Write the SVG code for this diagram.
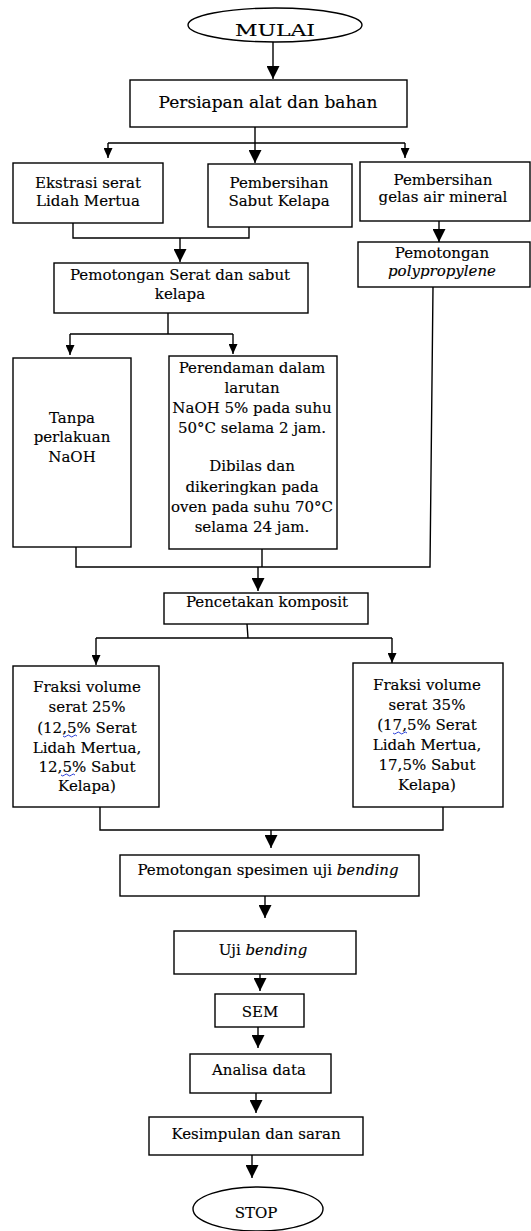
<svg xmlns="http://www.w3.org/2000/svg" width="531" height="1231" viewBox="0 0 531 1231">
<style>
.b{fill:#fff;stroke:#000;stroke-width:1.4}
.c{fill:none;stroke:#000;stroke-width:1.4}
.t{font-family:"DejaVu Serif","Liberation Serif",serif;font-size:15px;fill:#000;stroke:#000;stroke-width:0.15;text-anchor:middle}
.i{font-style:italic}
.sq{fill:none;stroke:#2a3fd8;stroke-width:1}
</style>
<defs>
<marker id="big" markerUnits="userSpaceOnUse" markerWidth="13" markerHeight="13" viewBox="0 0 13 13" refX="13" refY="6.5" orient="auto"><path d="M0,0 L13,6.5 L0,13 z" fill="#000"/></marker>
<marker id="sm" markerUnits="userSpaceOnUse" markerWidth="10" markerHeight="9" viewBox="0 0 10 9" refX="10" refY="4.5" orient="auto"><path d="M0,0 L10,4.5 L0,9 z" fill="#000"/></marker>
</defs>
<rect width="531" height="1231" fill="#fff"/>
<g id="connectors">
<line class="c" x1="273" y1="42" x2="273" y2="79" marker-end="url(#big)"/>
<path class="c" d="M255,127 V143 M108,143 H405"/>
<line class="c" x1="108" y1="143" x2="108" y2="158" marker-end="url(#sm)"/>
<line class="c" x1="255" y1="143" x2="255" y2="163" marker-end="url(#big)"/>
<line class="c" x1="405" y1="143" x2="405" y2="158" marker-end="url(#sm)"/>
<path class="c" d="M73,223 V238 H249 V227"/>
<line class="c" x1="180" y1="238" x2="180" y2="262" marker-end="url(#big)"/>
<line class="c" x1="439" y1="221" x2="439" y2="242" marker-end="url(#big)"/>
<path class="c" d="M168,313 V334 M70,334 H233"/>
<line class="c" x1="70" y1="334" x2="70" y2="355" marker-end="url(#sm)"/>
<line class="c" x1="233" y1="334" x2="233" y2="354" marker-end="url(#sm)"/>
<path class="c" d="M433,287 L430,567 H76 V547 M262,549 V567"/>
<line class="c" x1="258" y1="567" x2="258" y2="591" marker-end="url(#big)"/>
<path class="c" d="M247,624 L248,638 M96,638 H392"/>
<line class="c" x1="96" y1="638" x2="96" y2="665" marker-end="url(#sm)"/>
<line class="c" x1="392" y1="638" x2="392" y2="663" marker-end="url(#sm)"/>
<path class="c" d="M100,807 V830 H443 V807"/>
<line class="c" x1="271" y1="830" x2="271" y2="848" marker-end="url(#big)"/>
<line class="c" x1="265" y1="896" x2="265" y2="918" marker-end="url(#big)"/>
<line class="c" x1="260" y1="968" x2="260" y2="991" marker-end="url(#big)"/>
<line class="c" x1="258" y1="1027" x2="258" y2="1048" marker-end="url(#big)"/>
<line class="c" x1="256" y1="1090" x2="256" y2="1113" marker-end="url(#big)"/>
<line class="c" x1="252" y1="1155" x2="252" y2="1178" marker-end="url(#big)"/>
</g>
<g id="mulai"><ellipse class="b" cx="275" cy="25" rx="87" ry="17"/><text class="t" x="275" y="36" style="font-size:17px" textLength="80" lengthAdjust="spacingAndGlyphs">MULAI</text></g>
<g id="persiapan"><rect class="b" x="130" y="80" width="277" height="47"/><text class="t" x="268" y="108" style="font-size:17px">Persiapan alat dan bahan</text></g>
<g id="ekstrasi"><rect class="b" x="13" y="163" width="150" height="60"/><text class="t" x="88" y="188">Ekstrasi serat</text><text class="t" x="88" y="206">Lidah Mertua</text></g>
<g id="sabut"><rect class="b" x="208" y="164" width="144" height="63"/><text class="t" x="279" y="188">Pembersihan</text><text class="t" x="279" y="206">Sabut Kelapa</text></g>
<g id="gelas"><rect class="b" x="360" y="162" width="170" height="59"/><text class="t" x="443" y="185">Pembersihan</text><text class="t" x="443" y="202">gelas air mineral</text></g>
<g id="pemotongan-serat"><rect class="b" x="54" y="263" width="254" height="50"/><text class="t" x="180" y="280">Pemotongan Serat dan sabut</text><text class="t" x="180" y="299">kelapa</text></g>
<g id="pemotongan-pp"><rect class="b" x="358" y="242" width="172" height="45"/><text class="t" x="442" y="258">Pemotongan</text><text class="t i" x="442" y="276">polypropylene</text></g>
<g id="tanpa"><rect class="b" x="13" y="358" width="118" height="189"/><text class="t" x="72" y="423">Tanpa</text><text class="t" x="72" y="442">perlakuan</text><text class="t" x="72" y="462">NaOH</text></g>
<g id="perendaman"><rect class="b" x="169" y="356" width="168" height="193"/>
<text class="t" x="252" y="373">Perendaman dalam</text>
<text class="t" x="252" y="393">larutan</text>
<text class="t" x="252" y="413">NaOH 5% pada suhu</text>
<text class="t" x="252" y="433">50°C selama 2 jam.</text>
<text class="t" x="252" y="471">Dibilas dan</text>
<text class="t" x="252" y="492">dikeringkan pada</text>
<text class="t" x="252" y="512">oven pada suhu 70°C</text>
<text class="t" x="252" y="532">selama 24 jam.</text></g>
<g id="pencetakan"><rect class="b" x="164" y="593" width="204" height="31"/><text class="t" x="267" y="607">Pencetakan komposit</text></g>
<g id="fraksi25"><rect class="b" x="13" y="666" width="146" height="141"/>
<text class="t" x="87" y="692">Fraksi volume</text>
<text class="t" x="87" y="712">serat 25%</text>
<text class="t" x="87" y="733">(12,5% Serat</text>
<text class="t" x="87" y="753">Lidah Mertua,</text>
<text class="t" x="87" y="772">12,5% Sabut</text>
<text class="t" x="87" y="791">Kelapa)</text>
<path class="sq" d="M63,736 q1.75,2 3.5,0 t3.5,0 t3.5,0 t3.5,0"/>
<path class="sq" d="M61,775 q1.75,2 3.5,0 t3.5,0 t3.5,0 t3.5,0"/></g>
<g id="fraksi35"><rect class="b" x="353" y="663" width="150" height="144"/>
<text class="t" x="427" y="690">Fraksi volume</text>
<text class="t" x="427" y="710">serat 35%</text>
<text class="t" x="427" y="730">(17,5% Serat</text>
<text class="t" x="427" y="750">Lidah Mertua,</text>
<text class="t" x="427" y="770">17,5% Sabut</text>
<text class="t" x="427" y="790">Kelapa)</text>
<path class="sq" d="M393,733 q1.75,2 3.5,0 t3.5,0 t3.5,0 t3.5,0"/></g>
<g id="spesimen"><rect class="b" x="120" y="855" width="299" height="41"/><text class="t" x="268" y="875">Pemotongan spesimen uji <tspan class="i">bending</tspan></text></g>
<g id="uji"><rect class="b" x="174" y="931" width="182" height="43"/><text class="t" x="263" y="955">Uji <tspan class="i">bending</tspan></text></g>
<g id="sem"><rect class="b" x="215" y="994" width="89" height="33"/><text class="t" x="260" y="1017">SEM</text></g>
<g id="analisa"><rect class="b" x="190" y="1054" width="141" height="39"/><text class="t" x="259" y="1075">Analisa data</text></g>
<g id="kesimpulan"><rect class="b" x="149" y="1117" width="214" height="38"/><text class="t" x="256" y="1139">Kesimpulan dan saran</text></g>
<g id="stop"><ellipse class="b" cx="258" cy="1209" rx="65" ry="22"/><text class="t" x="256" y="1218">STOP</text></g>
</svg>
